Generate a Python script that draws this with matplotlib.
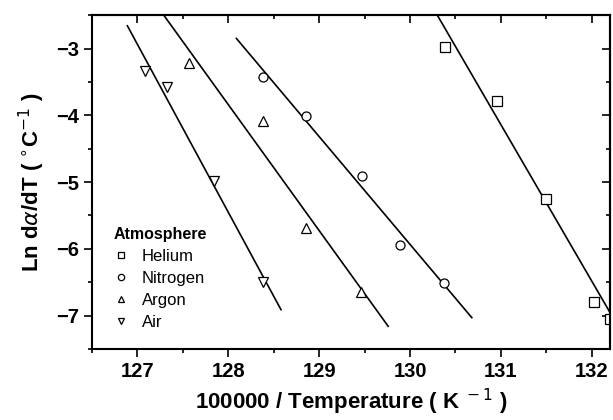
import matplotlib.pyplot as plt
from matplotlib.ticker import MultipleLocator

plt.rcParams['font.family'] = ['Liberation Sans', 'DejaVu Sans']

# ---- data ----
he_x = [130.38, 130.96, 131.50, 132.02, 132.20]
he_y = [-2.97, -3.79, -5.25, -6.79, -7.05]
n2_x = [128.38, 128.86, 129.47, 129.89, 130.37]
n2_y = [-3.42, -4.01, -4.91, -5.94, -6.51]
ar_x = [127.57, 128.38, 128.85, 129.46]
ar_y = [-3.22, -4.09, -5.69, -6.64]
air_x = [127.08, 127.33, 127.84, 128.38]
air_y = [-3.34, -3.58, -4.99, -6.49]

# fitted line end points
he_fit_x = [130.30, 132.40]
he_fit_y = [-2.50, -7.42]
n2_fit_x = [128.09, 130.68]
n2_fit_y = [-2.85, -7.03]
ar_fit_x = [127.29, 129.76]
ar_fit_y = [-2.50, -7.16]
air_fit_x = [126.89, 128.58]
air_fit_y = [-2.66, -6.91]

fig = plt.figure(figsize=(6.13, 4.2), dpi=100)
ax = fig.add_axes([0.150, 0.169, 0.845, 0.795])

for fx, fy in [(he_fit_x, he_fit_y), (n2_fit_x, n2_fit_y),
               (ar_fit_x, ar_fit_y), (air_fit_x, air_fit_y)]:
    ax.plot(fx, fy, color='black', lw=1.2)

mk = dict(ls='none', mfc='white', mec='black', mew=0.9, ms=6.5)
ax.plot(he_x, he_y, marker='s', label='Helium', **mk)
ax.plot(n2_x, n2_y, marker='o', label='Nitrogen', **mk)
ax.plot(ar_x, ar_y, marker='^', label='Argon', **mk)
ax.plot(air_x, air_y, marker='v', label='Air', **mk)

ax.set_xlim(126.5, 132.2)
ax.set_ylim(-7.5, -2.5)
ax.xaxis.set_major_locator(MultipleLocator(1))
ax.xaxis.set_minor_locator(MultipleLocator(0.5))
ax.yaxis.set_major_locator(MultipleLocator(1))
ax.yaxis.set_minor_locator(MultipleLocator(0.5))
ax.tick_params(which='both', direction='out', width=1.2)
ax.tick_params(which='major', length=6, labelsize=14.5)
ax.tick_params(which='minor', length=3)
for lab in ax.get_xticklabels() + ax.get_yticklabels():
    lab.set_fontweight('bold')

# mirrored ticks on top and right, pointing inward
top = ax.secondary_xaxis('top')
top.xaxis.set_major_locator(MultipleLocator(1))
top.xaxis.set_minor_locator(MultipleLocator(0.5))
top.tick_params(which='both', direction='in', width=1.2, labeltop=False)
top.tick_params(which='major', length=6)
top.tick_params(which='minor', length=3)
right = ax.secondary_yaxis('right')
right.yaxis.set_major_locator(MultipleLocator(1))
right.yaxis.set_minor_locator(MultipleLocator(0.5))
right.tick_params(which='both', direction='in', width=1.2, labelright=False)
right.tick_params(which='major', length=6)
right.tick_params(which='minor', length=3)

for s in ax.spines.values():
    s.set_linewidth(1.5)
top.spines['top'].set_linewidth(1.5)
right.spines['right'].set_linewidth(1.5)

ax.set_xlabel('100000 / Temperature ( K$^{\\ -1}$ )', fontsize=16,
              fontweight='bold', labelpad=4)
ax.set_ylabel('Ln d$\\alpha$/dT ( $^{\\circ}$C$^{-1}$ )', fontsize=16,
              fontweight='bold', labelpad=6)

leg = ax.legend(title='Atmosphere', loc='lower left', bbox_to_anchor=(0.012, 0.012),
                frameon=False, fontsize=12, handletextpad=0.7, labelspacing=0.42,
                handlelength=1.0, markerscale=0.7)
leg.get_title().set_fontweight('bold')
leg.get_title().set_fontsize(11.5)
leg._legend_box.align = 'left'

fig.savefig('out.png', dpi=100)
